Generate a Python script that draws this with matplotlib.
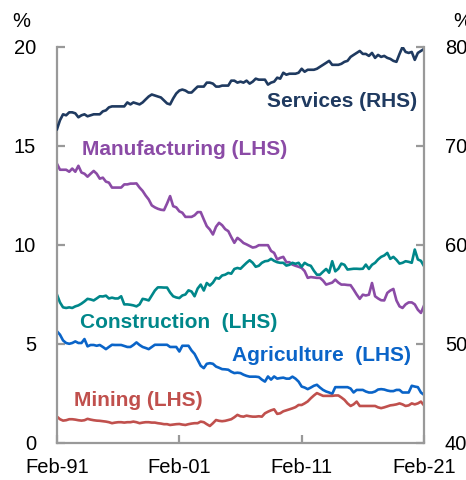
import numpy as np
import pandas as pd
import matplotlib
matplotlib.use('Agg')
import matplotlib.pyplot as plt
import matplotlib.dates as mdates

plt.rcParams['font.family'] = ['Liberation Sans', 'DejaVu Sans']

# quarterly observations, Feb-91 to Feb-21 (share of employment, %)
dates = pd.date_range('1991-02-01', '2021-02-01', freq='3MS')

services = [
    71.7, 72.6, 73.2, 73.1,  73.4, 73.4, 73.3, 72.9,  73.1, 73.2, 73.0, 73.1,
    73.2, 73.2, 73.2, 73.5,  73.6, 73.9, 74.0, 74.0,  74.0, 74.0, 74.0, 74.4,
    74.2, 74.4, 74.3, 74.2,  74.4, 74.7, 75.0, 75.2,  75.1, 75.0, 74.9, 74.6,
    74.3, 74.2, 74.8, 75.3,  75.6, 75.7, 75.6, 75.4,  75.4, 75.7, 76.0, 76.0,
    76.0, 76.4, 76.4, 76.3,  76.0, 76.0, 76.1, 76.1,  76.1, 76.6, 76.6, 76.4,
    76.5, 76.4, 76.6, 76.3,  76.5, 76.8, 76.7, 76.7,  76.7, 76.2, 76.4, 76.5,
    76.9, 76.8, 77.4, 77.2,  77.3, 77.3, 77.3, 77.4,  77.8, 77.5, 77.7, 77.7,
    77.7, 77.8, 78.0, 78.2,  78.4, 78.6, 78.2, 78.2,  78.2, 78.3, 78.5, 78.6,
    79.0, 79.2, 79.4, 79.6,  79.3, 79.3, 79.1, 79.4,  78.9, 79.2, 79.0, 79.1,
    78.9, 78.8, 78.6, 78.5,  79.3, 80.0, 79.5, 79.4,  79.5, 78.7, 79.4, 79.6,
    79.8,
]

manufacturing = [
    14.1, 13.8, 13.8, 13.8,  13.7, 13.86, 13.7, 14.0,  13.66, 13.6, 13.45, 13.6,
    13.74, 13.6, 13.35, 13.4,  13.2, 13.15, 12.9, 12.9,  12.9, 12.9, 13.06, 13.06,
    13.1, 13.1, 13.11, 12.9,  12.73, 12.5, 12.3, 12.0,  11.9, 11.83, 11.78, 11.76,
    12.1, 12.47, 11.96, 11.9,  11.7, 11.63, 11.42, 11.42,  11.42, 11.5, 11.66, 11.66,
    11.29, 10.95, 10.78, 10.53,  10.92, 11.12, 11.0, 10.8,  10.7, 10.4, 10.11, 10.36,
    10.24, 10.1, 10.03, 9.95,  9.87, 9.9, 9.99, 9.99,  9.99, 9.99, 9.7, 9.6,
    9.27, 9.35, 9.4, 9.13,  9.13, 9.01, 8.95, 8.9,  8.84, 8.68, 8.34, 8.38,
    8.36, 8.34, 8.34, 8.2,  8.0, 8.05, 8.1, 8.25,  8.1, 8.0, 8.0, 7.98,
    7.97, 7.75, 7.5, 7.28,  7.49, 7.45, 7.49, 8.08,  7.41, 7.3, 7.21, 7.2,
    7.58, 7.7, 7.78, 7.2,  6.9, 6.82, 7.0, 7.1,  7.1, 7.0, 6.73, 6.57,
    6.94,
]

construction = [
    7.49, 7.1, 6.85, 6.82,  6.85, 6.82, 6.9, 6.95,  7.04, 7.15, 7.28, 7.25,
    7.2, 7.3, 7.41, 7.4,  7.44, 7.3, 7.34, 7.3,  7.3, 7.41, 7.0, 7.0,
    6.98, 6.95, 6.9, 7.0,  7.28, 7.25, 7.2, 7.45,  7.7, 7.86, 7.86, 7.85,
    7.85, 7.6, 7.41, 7.35,  7.32, 7.45, 7.5, 7.71,  7.65, 7.41, 7.8, 8.0,
    7.7, 8.08, 7.95, 8.1,  8.34, 8.3, 8.46, 8.5,  8.59, 8.55, 8.79, 8.84,
    8.8, 8.95, 9.1, 9.23,  9.1, 8.9, 8.95, 9.1,  9.18, 9.2, 9.3, 9.2,
    9.13, 9.1, 9.1, 8.96,  9.0, 9.1, 9.05, 9.1,  8.9, 9.1, 9.0, 8.95,
    8.7, 8.5, 8.5, 8.65,  8.79, 8.6, 9.18, 8.67,  8.8, 9.06, 9.0, 8.76,
    8.78, 8.8, 8.8, 8.79,  8.8, 9.01, 8.79, 9.0,  9.1, 9.27, 9.4, 9.47,
    9.6, 9.3, 9.4, 9.25,  9.06, 9.1, 9.18, 9.15,  9.1, 9.77, 9.27, 9.2,
    8.93,
]

agriculture = [
    5.64, 5.47, 5.18, 5.05,  5.01, 5.05, 5.13, 5.05,  5.05, 5.25, 4.88, 4.95,
    4.95, 4.91, 4.95, 4.85,  4.74, 4.85, 4.96, 4.95,  4.95, 4.95, 4.9, 4.85,
    4.85, 4.95, 5.08, 4.95,  4.85, 4.8, 4.74, 4.85,  4.96, 4.96, 4.96, 4.96,
    4.96, 4.85, 4.85, 4.85,  4.62, 4.91, 4.91, 4.91,  4.67, 4.5, 4.2, 3.9,
    3.78, 4.0, 4.03, 4.0,  3.86, 3.8, 3.73, 3.72,  3.7, 3.6, 3.53, 3.55,
    3.53, 3.45, 3.39, 3.35,  3.35, 3.35, 3.33, 3.2,  3.1, 3.36, 3.2, 3.36,
    3.25, 3.28, 3.3, 3.25,  3.25, 3.35, 3.25, 3.1,  2.85, 2.8, 2.72, 2.8,
    2.89, 2.94, 2.8, 2.68,  2.6, 2.55, 2.48, 2.82,  2.82, 2.82, 2.82, 2.82,
    2.75, 2.55, 2.68, 2.68,  2.68, 2.6, 2.55, 2.55,  2.6, 2.7, 2.72, 2.7,
    2.65, 2.62, 2.62, 2.68,  2.68, 2.55, 2.55, 2.55,  2.89, 2.85, 2.82, 2.55,
    2.43,
]

mining = [
    1.33, 1.2, 1.13, 1.15,  1.2, 1.2, 1.18, 1.15,  1.13, 1.15, 1.22, 1.18,
    1.15, 1.13, 1.12, 1.1,  1.08, 1.05, 1.0, 1.03,  1.05, 1.05, 1.03, 1.05,
    1.05, 1.08, 1.05, 1.0,  1.03, 1.05, 1.05, 1.03,  1.03, 1.0, 0.98, 0.95,
    0.95, 0.91, 0.93, 0.95,  0.96, 0.93, 0.91, 0.95,  0.98, 1.0, 1.0, 1.08,
    1.05, 0.95, 0.86, 1.0,  1.16, 1.12, 1.1, 1.12,  1.16, 1.2, 1.3, 1.42,
    1.35, 1.33, 1.38, 1.35,  1.33, 1.33, 1.35, 1.33,  1.5, 1.58, 1.65, 1.7,
    1.47, 1.5, 1.6, 1.65,  1.7, 1.75, 1.81, 1.92,  1.92, 2.0, 2.1, 2.26,
    2.4, 2.52, 2.45, 2.38,  2.38, 2.38, 2.38, 2.4,  2.4, 2.3, 2.18, 2.0,
    1.87, 1.95, 2.09, 1.87,  1.87, 1.87, 1.87, 1.87,  1.87, 1.8, 1.76, 1.8,
    1.85, 1.9, 1.92, 1.95,  2.0, 1.95, 1.87, 1.9,  2.0, 1.95, 2.0, 2.09,
    1.9,
]

c_serv = '#1F3A60'
c_manu = '#8B4BA6'
c_cons = '#00878A'
c_agri = '#0A64C8'
c_mine = '#C0504D'
grey = '#999999'

fig = plt.figure(figsize=(4.66, 4.8), dpi=100)
ax = fig.add_axes([0.1223, 0.0771, 0.7876, 0.8250])
ax2 = ax.twinx()

lw = 1.9
ax.plot(dates, manufacturing, color=c_manu, lw=lw)
ax.plot(dates, construction, color=c_cons, lw=lw)
ax.plot(dates, agriculture, color=c_agri, lw=lw)
ax.plot(dates, mining, color=c_mine, lw=lw)
ax2.plot(dates, services, color=c_serv, lw=lw)

ax.set_ylim(0, 20)
ax.set_yticks([0, 5, 10, 15, 20])
ax2.set_ylim(40, 80)
ax2.set_yticks([40, 50, 60, 70, 80])
ax.set_xlim(pd.Timestamp('1991-02-01'), pd.Timestamp('2021-02-01'))
ax.set_xticks(pd.to_datetime(['1991-02-01', '2001-02-01', '2011-02-01', '2021-02-01']))
ax.xaxis.set_major_formatter(mdates.DateFormatter('%b-%y'))

sw = 1.6
for a in (ax, ax2):
    for side in ('left', 'right', 'bottom'):
        a.spines[side].set_color(grey)
        a.spines[side].set_linewidth(sw)
    a.spines['top'].set_visible(False)
ax.spines['right'].set_visible(False)
ax2.spines['left'].set_visible(False)
ax2.spines['bottom'].set_visible(False)

fs = 14.5
ax.tick_params(axis='y', direction='in', length=6, width=sw, color=grey,
               labelsize=fs, pad=15)
ax.tick_params(axis='x', direction='in', length=6, width=sw, color=grey,
               labelsize=fs, pad=11)
ax2.tick_params(axis='y', direction='in', length=6, width=sw, color=grey,
                labelsize=fs, pad=15)

fig.text(0.045, 0.955, '%', fontsize=fs, ha='center', va='center')
fig.text(0.972, 0.955, '%', fontsize=fs, ha='left', va='center')

lab = dict(fontsize=15, fontweight='bold', va='center', ha='left')
ax.text(pd.Timestamp('2008-04-01'), 17.27, 'Services (RHS)', color=c_serv, **lab)
ax.text(pd.Timestamp('1993-03-01'), 14.84, 'Manufacturing (LHS)', color=c_manu, **lab)
ax.text(pd.Timestamp('1993-01-01'), 6.08, 'Construction  (LHS)', color=c_cons, **lab)
ax.text(pd.Timestamp('2005-06-01'), 4.4, 'Agriculture  (LHS)', color=c_agri, **lab)
ax.text(pd.Timestamp('1992-07-01'), 2.13, 'Mining (LHS)', color=c_mine, **lab)

fig.savefig('out.png', dpi=100)
